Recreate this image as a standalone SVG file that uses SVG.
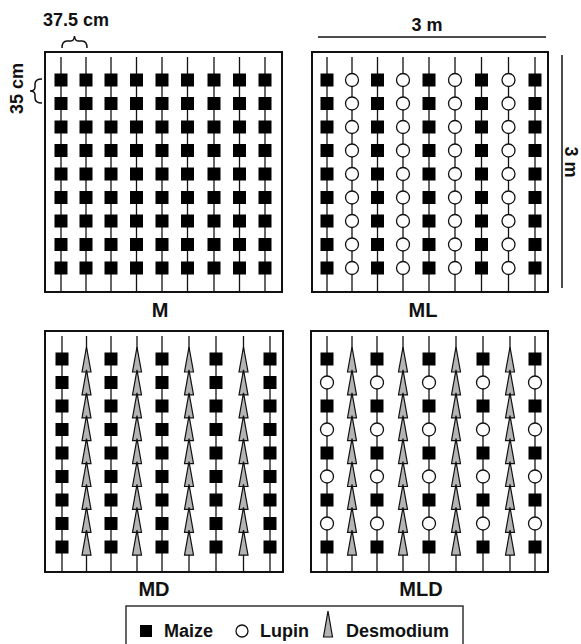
<svg xmlns="http://www.w3.org/2000/svg" xmlns:xlink="http://www.w3.org/1999/xlink" width="581" height="644" viewBox="0 0 581 644">
<style>
.box{fill:none;stroke:#111;stroke-width:2}
.stem{stroke:#111;stroke-width:1.3;fill:none}
.dim{stroke:#111;stroke-width:1.5;fill:none}
.mz{fill:#000}
.lu{fill:#fff;stroke:#111;stroke-width:1.3}
.de{fill:#b4b4b4;stroke:#111;stroke-width:1.2;stroke-linejoin:miter}
.t{font-family:"Liberation Sans",Arial,Helvetica,sans-serif;font-weight:bold;fill:#111;font-size:18px}
.lab{font-size:20px;text-anchor:middle}
</style>
<defs>
<rect id="sq" class="mz" x="-6.5" y="-6.5" width="13" height="13"/>
<circle id="ci" class="lu" r="6.5"/>
<path id="tr" class="de" d="M0,-25 L4.5,0 L-4.5,0 Z"/>
<g id="colM">
<path class="stem" d="M0,5 V240"/>
<use xlink:href="#sq" y="28"/><use xlink:href="#sq" y="51.5"/><use xlink:href="#sq" y="75"/>
<use xlink:href="#sq" y="98.5"/><use xlink:href="#sq" y="122"/><use xlink:href="#sq" y="145.5"/>
<use xlink:href="#sq" y="169"/><use xlink:href="#sq" y="192.5"/><use xlink:href="#sq" y="216"/>
</g>
<g id="colL">
<path class="stem" d="M0,5 V240"/>
<use xlink:href="#ci" y="28"/><use xlink:href="#ci" y="51.5"/><use xlink:href="#ci" y="75"/>
<use xlink:href="#ci" y="98.5"/><use xlink:href="#ci" y="122"/><use xlink:href="#ci" y="145.5"/>
<use xlink:href="#ci" y="169"/><use xlink:href="#ci" y="192.5"/><use xlink:href="#ci" y="216"/>
</g>
<g id="colMLa">
<path class="stem" d="M0,5 V240"/>
<use xlink:href="#sq" y="28"/><use xlink:href="#ci" y="51.5"/><use xlink:href="#sq" y="75"/>
<use xlink:href="#ci" y="98.5"/><use xlink:href="#sq" y="122"/><use xlink:href="#ci" y="145.5"/>
<use xlink:href="#sq" y="169"/><use xlink:href="#ci" y="192.5"/><use xlink:href="#sq" y="216"/>
</g>
<g id="colD">
<path class="stem" d="M0,5 V240"/>
<use xlink:href="#tr" y="41"/><use xlink:href="#tr" y="63.9"/><use xlink:href="#tr" y="86.8"/>
<use xlink:href="#tr" y="109.7"/><use xlink:href="#tr" y="132.6"/><use xlink:href="#tr" y="155.5"/>
<use xlink:href="#tr" y="178.4"/><use xlink:href="#tr" y="201.3"/><use xlink:href="#tr" y="224.2"/>
</g>
</defs>
<rect width="581" height="644" fill="#fff"/>

<g id="dimensions">
<text class="t" x="76" y="26" text-anchor="middle">37.5 cm</text>
<path class="dim" d="M62,48 Q62,41 67,41 L71,41 Q74,41 74.5,36 Q75,41 78,41 L82,41 Q87,41 87,48"/>
<text class="t" transform="translate(23,88.5) rotate(-90)" text-anchor="middle">35 cm</text>
<path class="dim" d="M42,79 Q35,79 35,84 L35,87 Q35,91 30,91 Q35,91 35,95 L35,98 Q35,103 42,103"/>
<text class="t" x="427" y="31" text-anchor="middle">3 m</text>
<path class="dim" d="M318,37 H546"/>
<path class="dim" d="M562,55 V288"/>
<text class="t" transform="translate(565,162) rotate(90)" text-anchor="middle">3 m</text>
</g>

<g id="panel-M">
<rect class="box" x="45" y="52" width="237" height="240"/>
<use xlink:href="#colM" x="61" y="52"/><use xlink:href="#colM" x="86" y="52"/><use xlink:href="#colM" x="111" y="52"/>
<use xlink:href="#colM" x="136.5" y="52"/><use xlink:href="#colM" x="162" y="52"/><use xlink:href="#colM" x="187.5" y="52"/>
<use xlink:href="#colM" x="214" y="52"/><use xlink:href="#colM" x="239.5" y="52"/><use xlink:href="#colM" x="265" y="52"/>
<text class="t lab" x="160" y="317">M</text>
</g>

<g id="panel-ML">
<rect class="box" x="312" y="52" width="236" height="240"/>
<use xlink:href="#colM" x="327" y="52"/><use xlink:href="#colL" x="352" y="52"/><use xlink:href="#colM" x="377.5" y="52"/>
<use xlink:href="#colL" x="403" y="52"/><use xlink:href="#colM" x="429" y="52"/><use xlink:href="#colL" x="455" y="52"/>
<use xlink:href="#colM" x="481.5" y="52"/><use xlink:href="#colL" x="508.5" y="52"/><use xlink:href="#colM" x="535" y="52"/>
<text class="t lab" x="423" y="317">ML</text>
</g>

<g id="panel-MD">
<rect class="box" x="45" y="331" width="238" height="241"/>
<use xlink:href="#colM" x="62" y="331"/><use xlink:href="#colD" x="86.5" y="331"/><use xlink:href="#colM" x="111" y="331"/>
<use xlink:href="#colD" x="137" y="331"/><use xlink:href="#colM" x="162" y="331"/><use xlink:href="#colD" x="189" y="331"/>
<use xlink:href="#colM" x="216" y="331"/><use xlink:href="#colD" x="243.5" y="331"/><use xlink:href="#colM" x="270" y="331"/>
<text class="t lab" x="154" y="596">MD</text>
</g>

<g id="panel-MLD">
<rect class="box" x="311" y="331" width="237" height="241"/>
<use xlink:href="#colMLa" x="327" y="331"/><use xlink:href="#colD" x="352" y="331"/><use xlink:href="#colMLa" x="377" y="331"/>
<use xlink:href="#colD" x="403" y="331"/><use xlink:href="#colMLa" x="429" y="331"/><use xlink:href="#colD" x="456" y="331"/>
<use xlink:href="#colMLa" x="483" y="331"/><use xlink:href="#colD" x="510" y="331"/><use xlink:href="#colMLa" x="535" y="331"/>
<text class="t lab" x="421" y="596">MLD</text>
</g>

<g id="legend">
<rect x="126" y="606" width="337" height="50" fill="#fff" stroke="#333" stroke-width="1.5"/>
<rect class="mz" x="140" y="625" width="12" height="12"/>
<text class="t" x="164" y="637">Maize</text>
<circle class="lu" cx="242" cy="631" r="6"/>
<text class="t" x="260" y="637">Lupin</text>
<path class="de" d="M328,611 L332.5,637 L323.5,637 Z"/>
<text class="t" x="346" y="637">Desmodium</text>
</g>
</svg>
